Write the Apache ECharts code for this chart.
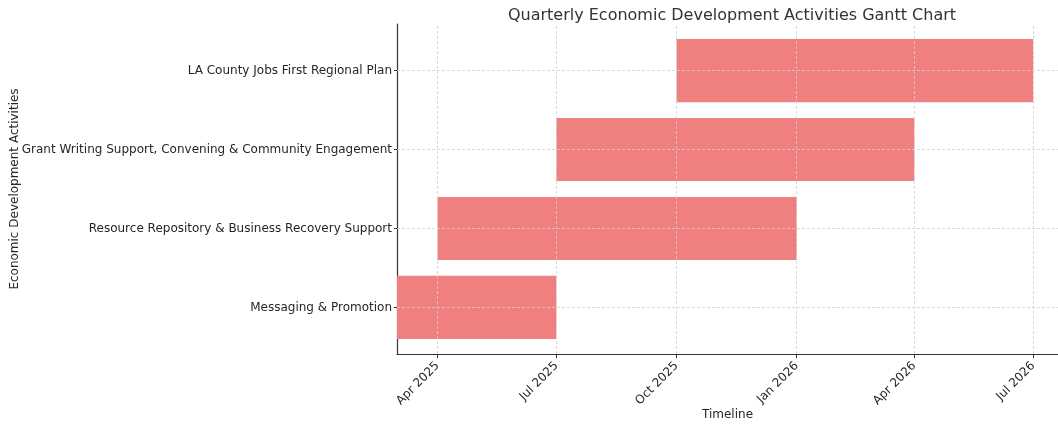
<!DOCTYPE html>
<html>
<head>
<meta charset="utf-8">
<script src="https://cdn.jsdelivr.net/npm/echarts@6/dist/echarts.min.js"></script>
<style>html,body{margin:0;padding:0;background:#fff}#c{width:1058px;height:425px}</style>
</head>
<body>
<div id="c"></div>
<script>
const categories = ['Messaging & Promotion', 'Resource Repository & Business Recovery Support', 'Grant Writing Support, Convening & Community Engagement', 'LA County Jobs First Regional Plan'];
const startDates = ['2025-03-01', '2025-04-01', '2025-07-01', '2025-10-01'];
const endDates = ['2025-07-01', '2026-01-01', '2026-04-01', '2026-07-01'];
const tickDates = ['2025-04-01', '2025-07-01', '2025-10-01', '2026-01-01', '2026-04-01', '2026-07-01'];
const tickLabels = ['Apr 2025', 'Jul 2025', 'Oct 2025', 'Jan 2026', 'Apr 2026', 'Jul 2026'];
const axisStart = '2025-03-01';
const axisEnd = '2026-07-20';

const ts = s => Date.parse(s + 'T00:00:00Z');
const tickTs = tickDates.map(ts);
const labelMap = {};
tickTs.forEach((t, i) => labelMap[t] = tickLabels[i]);
const data = categories.map((c, i) => [ts(startDates[i]), ts(endDates[i]), i]);
const font = 'DejaVu Sans';
const gridStyle = {color: '#d0d0d0', type: [3, 2], width: 0.8};

const chart = echarts.init(document.getElementById('c'), null, {renderer: 'canvas'});
chart.setOption({
  animation: false,
  textStyle: {fontFamily: font},
  title: {
    text: 'Quarterly Economic Development Activities Gantt Chart',
    left: 727, top: 3, textAlign: 'center',
    textStyle: {fontFamily: font, fontSize: 16, fontWeight: 'normal', color: '#333'}
  },
  grid: {left: 397, right: 0, top: 24, bottom: 71, containLabel: false, outerBoundsMode: 'none'},
  xAxis: {
    type: 'value', min: ts(axisStart), max: ts(axisEnd),
    name: 'Timeline', nameLocation: 'middle', nameGap: 55, nameMoveOverlap: false,
    nameTextStyle: {fontFamily: font, fontSize: 12, color: '#262626'},
    axisLine: {show: true, onZero: false, lineStyle: {color: '#333', width: 1.2}},
    axisTick: {show: true, customValues: tickTs, length: 4, lineStyle: {color: '#333'}},
    axisLabel: {customValues: tickTs, rotate: 45, margin: 10, fontFamily: font, fontSize: 12, color: '#262626',
      formatter: v => labelMap[v] || ''},
    splitLine: {show: false}
  },
  yAxis: {
    type: 'value', min: -0.59, max: 3.59,
    name: 'Economic Development Activities', nameLocation: 'middle', nameGap: 376, nameMoveOverlap: false,
    nameTextStyle: {fontFamily: font, fontSize: 12, color: '#262626'},
    axisLine: {show: true, onZero: false, lineStyle: {color: '#333', width: 1.2}},
    axisTick: {show: true, customValues: [0, 1, 2, 3], length: 3, lineStyle: {color: '#333'}},
    axisLabel: {customValues: [0, 1, 2, 3], margin: 5, fontFamily: font, fontSize: 12, color: '#262626',
      formatter: v => categories[Math.round(v)]},
    splitLine: {show: false}
  },
  series: [{
    type: 'custom',
    data: data,
    encode: {x: [0, 1], y: 2},
    renderItem: (params, api) => {
      const y = api.value(2);
      const p0 = api.coord([api.value(0), y]);
      const p1 = api.coord([api.value(1), y]);
      const h = api.size([0, 0.8])[1];
      return {type: 'rect', shape: {x: p0[0], y: p0[1] - h / 2, width: p1[0] - p0[0], height: h},
        style: {fill: '#F08080'}};
    },
    markLine: {
      silent: true, symbol: 'none', label: {show: false},
      lineStyle: gridStyle,
      data: tickTs.map(t => ({xAxis: t})).concat([0, 1, 2, 3].map(v => ({yAxis: v})))
    }
  }]
});
</script>
</body>
</html>
